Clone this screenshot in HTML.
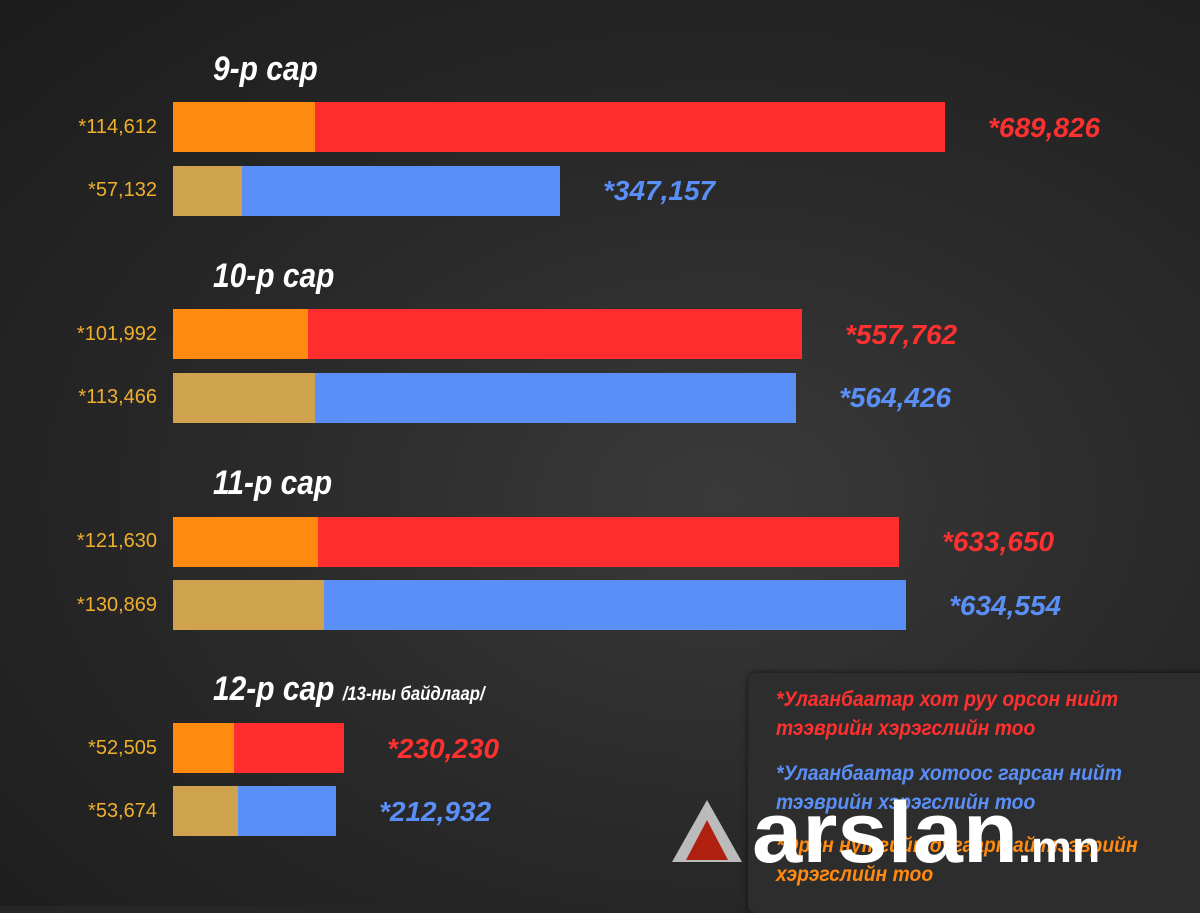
<!DOCTYPE html>
<html><head><meta charset="utf-8"><style>
body{margin:0;width:1200px;height:906px;overflow:hidden;background:#262626;font-family:"Liberation Sans",sans-serif;position:relative}
.bg{position:absolute;inset:0;background:radial-gradient(ellipse at 60% 55%,#3a3a3a 0%,#2a2a2a 45%,#1c1c1c 100%)}
.b{position:absolute;height:50px}
.t{position:absolute;color:#fff;font-weight:bold;font-style:italic;font-size:34px;white-space:nowrap;transform:scaleX(0.88);transform-origin:left top}
.l{position:absolute;right:1043px;color:#f0b02c;font-size:20px;white-space:nowrap}
.v{position:absolute;font-weight:bold;font-style:italic;font-size:28px;white-space:nowrap}
.r{color:#ff3030}.bl{color:#5b8ff8}
.leg{position:absolute;left:748px;top:673px;width:460px;height:240px;background:#2d2d2d;border-radius:8px;box-shadow:0 0 6px #111}
.leg p{margin:0;position:absolute;left:28px;font-weight:bold;font-style:italic;font-size:21px;line-height:29px;white-space:nowrap;transform:scaleX(0.92);transform-origin:left top}
</style></head><body>
<div class="bg"></div>
<div class="t" style="left:213px;top:50px">9-р сар</div>
<div class="t" style="left:213px;top:257px">10-р сар</div>
<div class="t" style="left:213px;top:464px">11-р сар</div>
<div class="t" style="left:213px;top:670px">12-р сар <span style="font-size:19px">/13-ны байдлаар/</span></div>

<div class="b" style="left:173px;top:102px;width:772px;background:#ff2d2d"></div><div class="b" style="left:173px;top:102px;width:142px;background:#ff8a10"></div>
<div class="b" style="left:173px;top:166px;width:387px;background:#5b8ff8"></div><div class="b" style="left:173px;top:166px;width:69px;background:#cfa24e"></div>
<div class="b" style="left:173px;top:309px;width:629px;background:#ff2d2d"></div><div class="b" style="left:173px;top:309px;width:135px;background:#ff8a10"></div>
<div class="b" style="left:173px;top:373px;width:623px;background:#5b8ff8"></div><div class="b" style="left:173px;top:373px;width:142px;background:#cfa24e"></div>
<div class="b" style="left:173px;top:517px;width:726px;background:#ff2d2d"></div><div class="b" style="left:173px;top:517px;width:145px;background:#ff8a10"></div>
<div class="b" style="left:173px;top:580px;width:733px;background:#5b8ff8"></div><div class="b" style="left:173px;top:580px;width:151px;background:#cfa24e"></div>
<div class="b" style="left:173px;top:723px;width:171px;background:#ff2d2d"></div><div class="b" style="left:173px;top:723px;width:61px;background:#ff8a10"></div>
<div class="b" style="left:173px;top:786px;width:163px;background:#5b8ff8"></div><div class="b" style="left:173px;top:786px;width:65px;background:#cfa24e"></div>

<div class="l" style="top:116px">*114,612</div>
<div class="l" style="top:179px">*57,132</div>
<div class="l" style="top:323px">*101,992</div>
<div class="l" style="top:386px">*113,466</div>
<div class="l" style="top:530px">*121,630</div>
<div class="l" style="top:594px">*130,869</div>
<div class="l" style="top:737px">*52,505</div>
<div class="l" style="top:800px">*53,674</div>

<div class="v r" style="left:988px;top:112px">*689,826</div>
<div class="v bl" style="left:603px;top:175px">*347,157</div>
<div class="v r" style="left:845px;top:319px">*557,762</div>
<div class="v bl" style="left:839px;top:382px">*564,426</div>
<div class="v r" style="left:942px;top:526px">*633,650</div>
<div class="v bl" style="left:949px;top:590px">*634,554</div>
<div class="v r" style="left:387px;top:733px">*230,230</div>
<div class="v bl" style="left:379px;top:796px">*212,932</div>

<div class="leg">
<p class="r" style="top:12px">*Улаанбаатар хот руу орсон нийт<br>тээврийн хэрэгслийн тоо</p>
<p class="bl" style="top:86px">*Улаанбаатар хотоос гарсан нийт<br>тээврийн хэрэгслийн тоо</p>
<p style="top:158px;color:#ff8a10">*Орон нутгийн дугаартай тээврийн<br>хэрэгслийн тоо</p>
</div>
<svg style="position:absolute;left:670px;top:798px" width="74" height="66"><polygon points="37,2 72,64 2,64" fill="#bbb"/><polygon points="37,22 58,62 16,62" fill="#b02010"/></svg>
<div style="position:absolute;left:752px;top:790px;color:#fff;font-weight:bold;font-size:86px;letter-spacing:0px;line-height:86px;transform:scaleX(1.05);transform-origin:left top">arslan<span style="font-size:44px">.mn</span></div>
</body></html>
